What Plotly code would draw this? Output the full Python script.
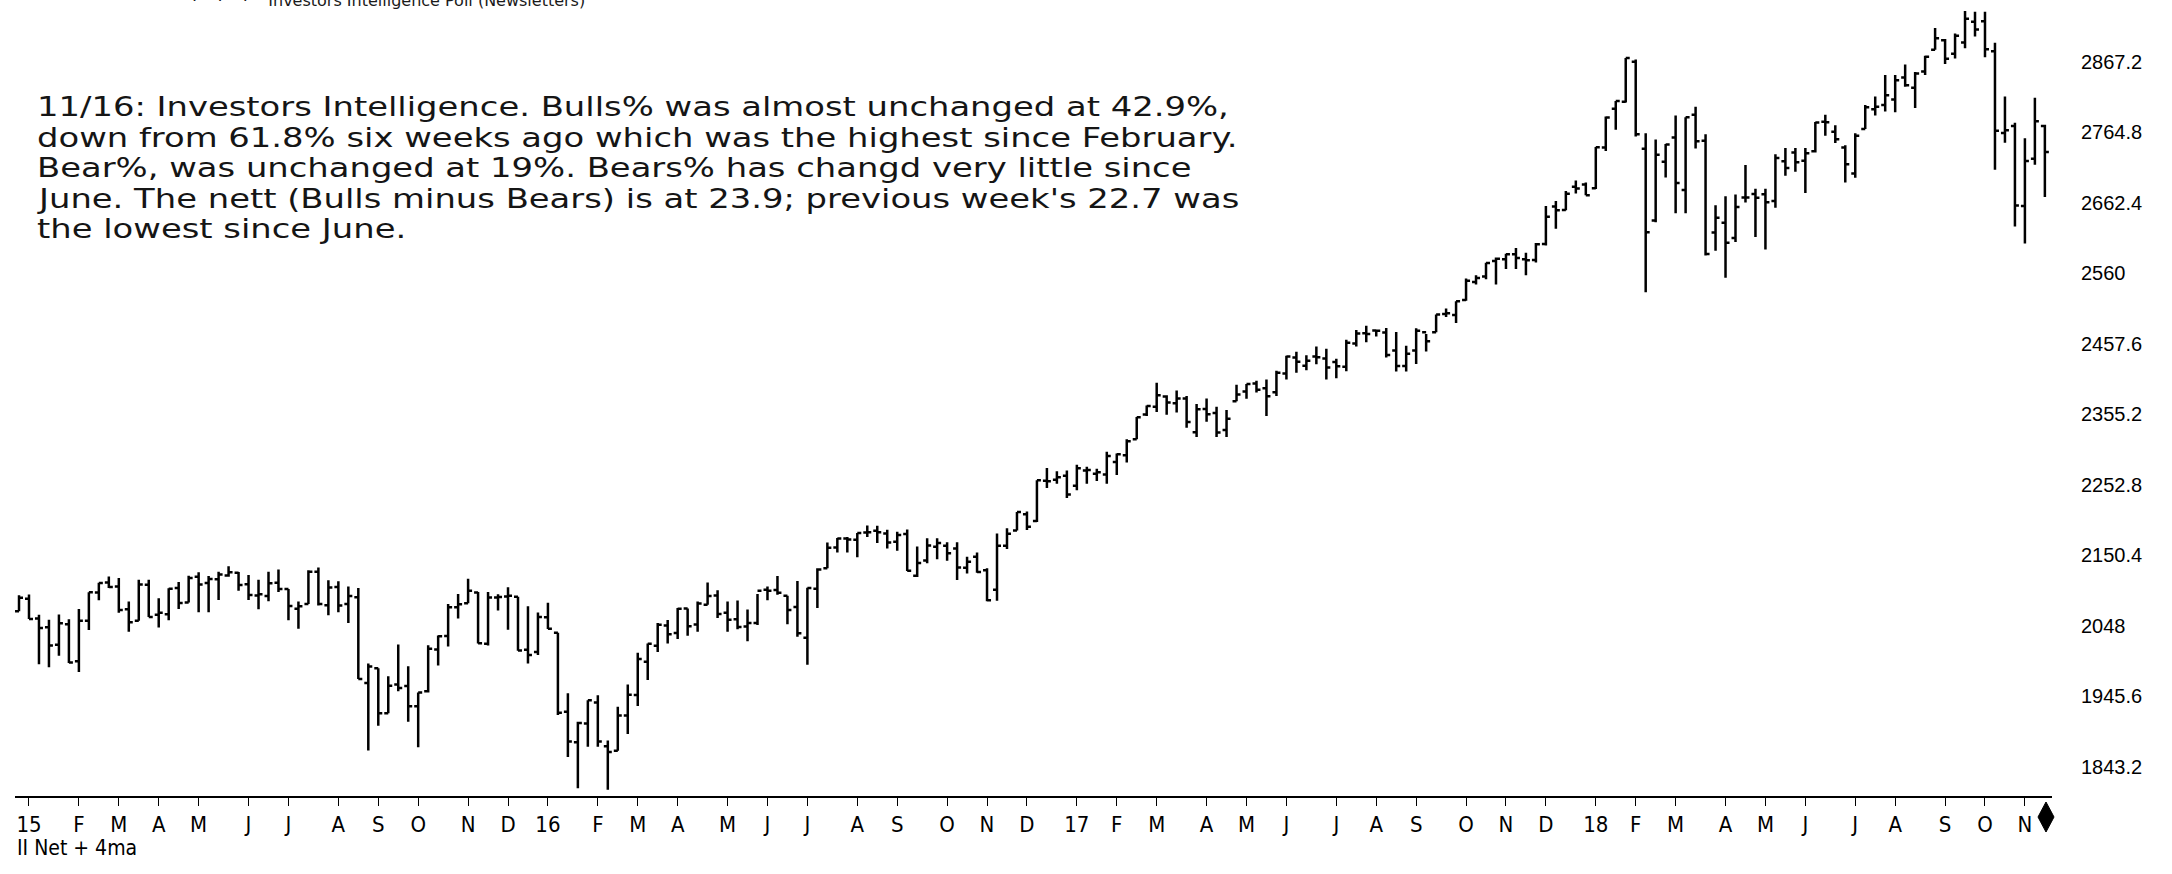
import plotly.graph_objects as go
import pandas as pd

# ---- data: weekly S&P 500 bars (week ending Friday) ----
week_start = "2014-12-26"
week_end = "2018-11-16"

opens = [
    2069.3, 2087.6, 2058.9, 2046.1, 2020.8, 2050.4, 1996.7, 2055.5, 2096.5, 2110.9,
    2105.2, 2072.3, 2055.4, 2107.9, 2064.1, 2064.9, 2102.9, 2082.1, 2119.3, 2110.2,
    2115.6, 2121.3, 2125.3, 2108.6, 2092.3, 2091.3, 2110.6, 2101.5, 2073.0, 2080.0,
    2126.8, 2078.2, 2104.5, 2080.0, 2089.7, 1965.2, 1986.7, 1921.2, 1963.1, 1960.8,
    1931.3, 1953.0, 2013.7, 2033.5, 2075.1, 2080.8, 2096.6, 2022.1, 2089.4, 2090.9,
    2090.4, 2013.4, 2010.3, 2060.5,
    2038.2, 1923.3, 1878.9, 1906.3, 1936.9, 1873.3, 1866.8, 1917.8, 1947.6, 1996.1,
    2019.3, 2048.6, 2037.9, 2073.2, 2050.2, 2078.8, 2092.3, 2067.2, 2057.6, 2047.2,
    2052.2, 2100.7, 2100.0, 2091.8, 2075.6, 2030.8, 2102.0, 2131.7, 2162.0, 2175.0,
    2173.2, 2183.7, 2186.1, 2182.2, 2170.2, 2181.6, 2120.9, 2143.0, 2163.0, 2164.3,
    2160.4, 2132.6, 2148.5, 2129.0, 2100.6, 2164.5, 2186.4, 2210.2, 2200.2, 2258.8,
    2260.2, 2266.2,
    2251.6, 2273.6, 2269.1, 2267.8, 2286.0, 2295.9, 2319.2, 2354.9, 2366.3, 2381.0,
    2371.4, 2378.2, 2329.1, 2363.1, 2357.2, 2332.6, 2374.2, 2388.5, 2399.9, 2393.0,
    2387.2, 2414.5, 2437.8, 2425.9, 2439.3, 2436.3, 2431.4, 2424.5, 2458.2, 2473.0,
    2477.1, 2474.0, 2448.0, 2425.5, 2447.9, 2474.4, 2474.4, 2501.1, 2499.4, 2521.2,
    2547.4, 2555.6, 2578.1, 2580.4, 2587.9, 2580.4, 2579.5, 2602.7, 2657.2, 2652.2,
    2685.9, 2689.2,
    2683.7, 2742.7, 2798.96, 2809.2, 2867.2, 2741.1, 2636.8, 2722.0, 2757.4, 2681.1,
    2790.5, 2752.7, 2619.4, 2633.5, 2611.3, 2670.1, 2675.4, 2675.0, 2665.0, 2722.7,
    2735.4, 2723.6, 2737.2, 2780.2, 2765.8, 2742.9, 2704.9, 2769.7, 2798.4, 2804.6,
    2812.4, 2844.6, 2829.6, 2853.3, 2884.7, 2898.4, 2879.0, 2895.1, 2925.5, 2926.3,
    2882.5, 2763.8, 2773.9, 2657.7, 2726.4, 2773.9,
]
highs = [
    2092.7, 2093.6, 2064.4, 2056.9, 2064.6, 2057.6, 2072.4, 2097.0, 2110.6, 2119.6,
    2117.5, 2083.5, 2114.9, 2114.9, 2088.3, 2102.6, 2111.9, 2120.9, 2125.9, 2120.5,
    2126.8, 2134.7, 2126.2, 2121.9, 2115.0, 2126.7, 2130.0, 2101.5, 2083.6, 2128.9,
    2132.8, 2114.2, 2112.7, 2105.4, 2102.9, 1993.5, 1986.7, 1975.0, 2020.9, 1989.4,
    1951.4, 2020.1, 2034.0, 2079.7, 2094.3, 2116.5, 2097.3, 2097.1, 2094.1, 2104.3,
    2090.4, 2076.7, 2067.6, 2081.6,
    2038.2, 1950.3, 1908.9, 1940.2, 1947.2, 1881.6, 1930.7, 1962.9, 2009.1, 2022.4,
    2052.4, 2056.6, 2074.0, 2073.2, 2083.4, 2111.1, 2099.9, 2083.4, 2084.9, 2071.9,
    2094.3, 2105.3, 2120.6, 2091.8, 2113.3, 2103.5, 2131.7, 2169.1, 2175.6, 2177.1,
    2183.0, 2193.8, 2193.4, 2187.7, 2184.9, 2187.9, 2163.3, 2175.3, 2175.3, 2169.6,
    2169.6, 2148.4, 2154.8, 2131.9, 2182.3, 2189.9, 2213.4, 2214.1, 2259.5, 2277.5,
    2272.6, 2273.8,
    2282.1, 2279.3, 2276.1, 2301.0, 2298.3, 2319.2, 2351.3, 2368.0, 2401.0, 2382.9,
    2390.0, 2381.9, 2370.4, 2378.4, 2366.4, 2361.4, 2398.2, 2399.3, 2403.9, 2405.8,
    2418.7, 2440.2, 2446.2, 2441.0, 2453.8, 2450.4, 2436.0, 2463.5, 2477.6, 2484.0,
    2477.1, 2480.5, 2474.9, 2454.8, 2480.4, 2472.0, 2500.2, 2508.9, 2519.4, 2552.5,
    2557.4, 2575.4, 2583.0, 2588.4, 2597.0, 2590.1, 2604.2, 2657.7, 2665.2, 2679.6,
    2695.0, 2692.1,
    2743.5, 2787.9, 2810.3, 2872.9, 2870.6, 2763.4, 2754.4, 2747.8, 2789.2, 2786.6,
    2801.9, 2761.9, 2659.1, 2672.1, 2674.7, 2717.5, 2682.9, 2682.9, 2732.9, 2742.1,
    2742.2, 2742.0, 2779.9, 2790.2, 2775.0, 2746.1, 2763.4, 2804.5, 2816.8, 2848.0,
    2848.0, 2863.4, 2852.5, 2876.2, 2916.5, 2900.2, 2908.3, 2940.9, 2940.1, 2939.9,
    2894.8, 2816.9, 2778.9, 2756.1, 2815.2, 2776.0,
]
lows = [
    2069.3, 2057.9, 1992.4, 1988.1, 2004.5, 1994.2, 1980.9, 2041.9, 2085.4, 2103.0,
    2067.3, 2039.7, 2055.4, 2061.1, 2045.8, 2056.4, 2072.6, 2082.1, 2067.9, 2067.9,
    2085.6, 2119.4, 2099.2, 2085.7, 2072.1, 2084.0, 2097.4, 2056.3, 2044.0, 2080.0,
    2077.8, 2063.5, 2067.9, 2052.1, 1970.9, 1867.0, 1903.1, 1921.2, 1953.0, 1908.8,
    1871.9, 1951.4, 1990.7, 2018.2, 2058.8, 2080.8, 2022.6, 2019.4, 2070.3, 2042.4,
    2012.1, 1993.3, 2005.9, 2043.6,
    1918.5, 1857.8, 1812.3, 1872.7, 1872.7, 1810.1, 1866.8, 1891.0, 1931.8, 1969.3,
    2010.0, 2022.5, 2028.9, 2033.8, 2039.7, 2078.8, 2059.6, 2039.5, 2043.0, 2025.9,
    2049.3, 2085.1, 2093.3, 2050.4, 2032.1, 1991.7, 2074.0, 2131.7, 2154.8, 2154.8,
    2147.6, 2177.1, 2168.5, 2160.4, 2157.1, 2127.8, 2119.1, 2139.1, 2145.0, 2142.6,
    2114.7, 2124.3, 2125.3, 2083.8, 2084.6, 2159.8, 2186.4, 2187.4, 2199.0, 2248.4,
    2254.3, 2233.6,
    2245.1, 2254.3, 2258.4, 2254.4, 2267.2, 2285.4, 2319.2, 2352.9, 2358.6, 2354.5,
    2358.0, 2335.7, 2322.3, 2344.5, 2322.3, 2322.3, 2374.2, 2378.0, 2387.0, 2352.7,
    2381.8, 2405.7, 2415.7, 2419.4, 2427.9, 2405.7, 2407.7, 2418.0, 2453.9, 2459.9,
    2468.4, 2437.8, 2417.4, 2417.4, 2428.2, 2446.6, 2474.4, 2496.7, 2488.0, 2520.4,
    2543.8, 2551.4, 2544.0, 2566.2, 2566.3, 2557.4, 2575.6, 2600.3, 2624.8, 2651.5,
    2676.1, 2673.6,
    2682.4, 2737.6, 2768.6, 2808.1, 2758.7, 2532.7, 2634.1, 2699.3, 2647.3, 2647.3,
    2741.4, 2585.9, 2593.0, 2553.8, 2605.4, 2662.8, 2612.7, 2594.6, 2655.2, 2701.9,
    2707.4, 2676.8, 2735.6, 2759.9, 2749.2, 2692.0, 2698.7, 2769.6, 2789.2, 2795.1,
    2793.9, 2830.9, 2800.0, 2848.0, 2884.7, 2864.1, 2872.2, 2886.9, 2903.9, 2874.0,
    2710.5, 2749.8, 2628.2, 2603.5, 2717.9, 2670.8,
]
closes = [
    2088.8, 2058.2, 2044.8, 2019.4, 2051.8, 1995.0, 2055.5, 2097.0, 2110.3, 2104.5,
    2071.3, 2053.4, 2108.1, 2061.0, 2067.0, 2102.1, 2081.2, 2117.7, 2108.3, 2116.1,
    2122.7, 2126.1, 2107.4, 2092.8, 2094.1, 2110.0, 2101.5, 2076.8, 2076.6, 2126.6,
    2079.7, 2103.8, 2077.6, 2091.5, 1970.9, 1988.9, 1921.2, 1961.1, 1958.0, 1931.3,
    1951.4, 2014.9, 2033.1, 2075.2, 2079.4, 2099.2, 2023.0, 2089.2, 2090.1, 2091.7,
    2012.4, 2005.6, 2061.0, 2043.9,
    1922.0, 1880.3, 1906.9, 1940.2, 1880.1, 1864.8, 1917.8, 1948.1, 2000.0, 2022.2,
    2049.6, 2035.9, 2072.8, 2047.6, 2080.7, 2091.6, 2065.3, 2057.1, 2046.6, 2052.3,
    2099.1, 2099.1, 2096.1, 2071.2, 2037.4, 2103.0, 2129.9, 2161.7, 2175.0, 2173.6,
    2182.9, 2184.1, 2183.9, 2169.0, 2180.0, 2128.0, 2139.2, 2164.7, 2168.3, 2153.7,
    2133.0, 2141.2, 2126.4, 2085.2, 2164.5, 2181.9, 2213.4, 2192.0, 2259.5, 2258.1,
    2263.8, 2238.8,
    2277.0, 2274.6, 2271.3, 2294.7, 2297.4, 2316.1, 2351.2, 2367.3, 2383.1, 2372.6,
    2378.3, 2344.0, 2362.7, 2355.5, 2329.0, 2348.7, 2384.2, 2399.3, 2390.9, 2381.7,
    2415.8, 2439.1, 2431.8, 2433.2, 2438.3, 2423.4, 2425.2, 2459.3, 2472.5, 2472.1,
    2476.8, 2441.3, 2425.6, 2443.1, 2476.6, 2461.4, 2500.2, 2502.2, 2519.4, 2549.3,
    2553.2, 2575.2, 2581.1, 2587.8, 2582.3, 2578.9, 2602.4, 2642.2, 2651.5, 2675.8,
    2683.3, 2673.6,
    2743.2, 2786.2, 2810.3, 2872.9, 2762.1, 2619.6, 2732.2, 2747.3, 2691.3, 2786.6,
    2752.0, 2588.3, 2640.9, 2604.5, 2656.3, 2670.1, 2669.9, 2663.4, 2727.7, 2713.0,
    2721.3, 2734.6, 2779.0, 2779.4, 2754.9, 2718.4, 2759.8, 2801.3, 2801.8, 2818.8,
    2840.4, 2833.3, 2850.1, 2874.7, 2901.5, 2871.7, 2905.0, 2929.7, 2914.0, 2885.6,
    2767.1, 2767.8, 2658.7, 2723.1, 2781.0, 2736.3,
]

y_tick_vals = [1843.2, 1945.6, 2048, 2150.4, 2252.8, 2355.2, 2457.6, 2560, 2662.4, 2764.8, 2867.2]
y_tick_text = ["1843.2", "1945.6", "2048", "2150.4", "2252.8", "2355.2", "2457.6", "2560", "2662.4", "2764.8", "2867.2"]
month_letters = ["J", "F", "M", "A", "M", "J", "J", "A", "S", "O", "N", "D"]

note_lines = [
    "11/16: Investors Intelligence. Bulls% was almost unchanged at 42.9%,",
    "down from 61.8% six weeks ago which was the highest since February.",
    "Bear%, was unchanged at 19%. Bears% has changd very little since",
    "June. The nett (Bulls minus Bears) is at 23.9; previous week's 22.7 was",
    "the lowest since June.",
]
title_text = "·    ·    ·    Investors Intelligence Poll (Newsletters)"
sub_label = "II Net + 4ma"

weeks = pd.date_range(week_start, week_end, freq="W-FRI")

# month ticks at the first weekly bar of each month (from 2015)
tick_vals, tick_text, seen = [], [], set()
for d in weeks:
    key = (d.year, d.month)
    if d.year >= 2015 and key not in seen:
        seen.add(key)
        tick_vals.append(d)
        tick_text.append(f"{d.year % 100:02d}" if d.month == 1 else month_letters[d.month - 1])

W, H = 2172, 874
L_M, R_M, T_M, B_M = 15, 120, 0, 78
PW = W - L_M - R_M

fig = go.Figure(go.Ohlc(
    x=weeks, open=opens, high=highs, low=lows, close=closes,
    increasing=dict(line=dict(color="black", width=2.5)),
    decreasing=dict(line=dict(color="black", width=2.5)),
    tickwidth=0.4, hoverinfo="skip", showlegend=False,
))

axis_font = "Liberation Sans Narrow, DejaVu Sans Condensed, Arial Narrow, sans-serif"
note_font = dict(family="DejaVu Sans, Verdana, sans-serif", size=26, color="#151515")

fig.update_layout(
    width=W, height=H,
    margin=dict(l=L_M, r=R_M, t=T_M, b=B_M, pad=0),
    paper_bgcolor="white", plot_bgcolor="white",
    showlegend=False,
    xaxis=dict(
        type="date",
        range=["2014-12-23 04:30", "2018-11-21 00:00"],
        rangeslider=dict(visible=False),
        showgrid=False, zeroline=False,
        showline=True, linecolor="black", linewidth=2,
        ticks="outside", ticklen=8, tickwidth=1, tickcolor="black",
        tickvals=tick_vals, ticktext=tick_text,
        tickfont=dict(family=axis_font, size=22, color="black"),
        fixedrange=True,
    ),
    yaxis=dict(
        side="right",
        range=[1801, 2957],
        showgrid=False, zeroline=False, showline=False,
        ticks="", tickvals=y_tick_vals, ticktext=y_tick_text,
        ticklabelstandoff=28,
        tickfont=dict(family="Liberation Sans, Arial, sans-serif", size=20, color="black"),
        fixedrange=True,
    ),
)

# note text, one annotation per line (tight line spacing as in the reference)
LINE_TOP, LINE_GAP = 107, 30.5
for i, line in enumerate(note_lines):
    fig.add_annotation(
        xref="paper", yref="paper", x=(35 - L_M) / PW, y=1, yshift=-(LINE_TOP + i * LINE_GAP),
        xanchor="left", yanchor="middle", align="left", showarrow=False,
        text=line, font=note_font,
    )
fig.add_annotation(
    xref="paper", yref="paper", x=(190 - L_M) / PW, y=1, yshift=-12,
    xanchor="left", yanchor="bottom", align="left", showarrow=False,
    text=title_text,
    font=dict(family="DejaVu Sans, Verdana, sans-serif", size=16, color="#1a1a1a"),
)
fig.add_annotation(
    xref="paper", yref="paper", x=0, y=0, yshift=-52,
    xanchor="left", yanchor="middle", showarrow=False,
    text=sub_label,
    font=dict(family=axis_font, size=21, color="black"),
)
# end-of-axis marker
fig.add_shape(
    type="path", xref="paper", yref="paper",
    xsizemode="pixel", ysizemode="pixel", xanchor=1, yanchor=0,
    path="M -6,-6 L 2,-21 L -6,-36 L -14,-21 Z",
    fillcolor="black", line=dict(color="black", width=1),
)

# widen the note glyphs horizontally, as the reference text is drawn wide
post_js = """
document.body.style.margin='0';
var gd = document.getElementById('{plot_id}');
var nLines = %d, stretch = 1.3;
gd.querySelectorAll('g.annotation').forEach(function(a){
  var idx = parseInt(a.getAttribute('data-index'));
  if (isNaN(idx) || idx >= nLines) return;
  var t = a.querySelector('text.annotation-text');
  if (!t) return;
  var w = t.getComputedTextLength();
  t.setAttribute('lengthAdjust', 'spacingAndGlyphs');
  t.setAttribute('textLength', (w * stretch).toFixed(1));
});
""" % len(note_lines)

fig.write_html("out.html", config={"displayModeBar": False}, post_script=post_js)
